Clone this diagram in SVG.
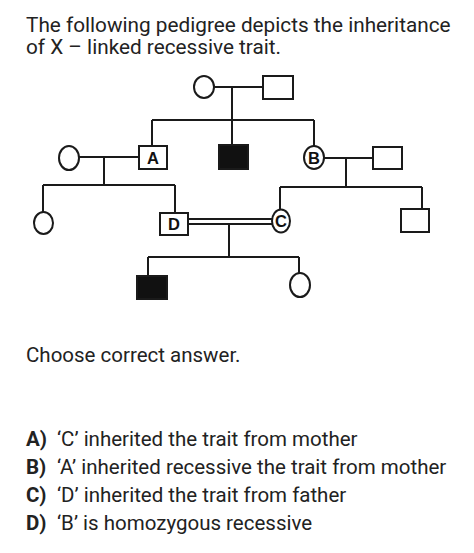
<svg xmlns="http://www.w3.org/2000/svg" width="474" height="553" viewBox="0 0 474 553">
<style>
.t{font-family:Roboto,"Liberation Sans",sans-serif;font-size:20.5px;fill:#222}
.b{font-weight:bold}
.s{fill:#fff;stroke:#1a1a1a;stroke-width:2}
.f{fill:#111;stroke:#1a1a1a;stroke-width:2}
.l{fill:none;stroke:#1a1a1a;stroke-width:2}
.lb{font-family:"Liberation Sans",Arial,sans-serif;font-weight:bold;font-size:16.5px;fill:#111;text-anchor:middle}
</style>
<rect width="474" height="553" fill="#fff"/>
<text class="t" x="26" y="32" style="font-size:20.75px">The following pedigree depicts the inheritance</text>
<text class="t" x="26" y="54" style="font-size:20.75px">of X – linked recessive trait.</text>
<g id="connectors">
<path class="l" d="M214 87H263M232 87V145M152 120H314M152 120V146M314 120V146"/>
<path class="l" d="M79 157H139M104 157V185M43 185H175M43 185V212M175 185V213"/>
<path class="l" d="M324 158H373M346 158V187M280 187H422M280 187V209M422 187V209"/>
<path class="l" d="M188 219H272M188 224H272M229 224V257M148 257H299M148 257V276M299 257V273"/>
</g>
<g id="gp_f"><ellipse class="s" cx="204" cy="87" rx="10" ry="11"/></g>
<g id="gp_m"><rect class="s" x="263" y="76" width="30" height="23"/></g>
<g id="A"><rect class="s" x="139" y="146" width="28" height="23"/><text class="lb" x="153" y="164">A</text></g>
<g id="affected1"><rect class="f" x="219" y="145" width="29" height="24"/></g>
<g id="B"><ellipse class="s" cx="314" cy="157.5" rx="10" ry="11.5"/><text class="lb" x="314" y="163.5">B</text></g>
<g id="wifeA"><ellipse class="s" cx="69" cy="158" rx="10" ry="12"/></g>
<g id="husbandB"><rect class="s" x="373" y="147" width="29" height="22"/></g>
<g id="daughterA"><ellipse class="s" cx="43.5" cy="223" rx="9.5" ry="11"/></g>
<g id="D"><rect class="s" x="160" y="213" width="28" height="22"/><text class="lb" x="174" y="230">D</text></g>
<g id="C"><ellipse class="s" cx="281" cy="221" rx="9" ry="11.5"/><text class="lb" x="281" y="227">C</text></g>
<g id="sonB"><rect class="s" x="401" y="209" width="28" height="23"/></g>
<g id="affected2"><rect class="f" x="137" y="276" width="30" height="23"/></g>
<g id="daughterD"><ellipse class="s" cx="300" cy="285" rx="10" ry="12"/></g>
<text class="t" x="26" y="362">Choose correct answer.</text>
<text class="t b" x="26" y="446">A)</text><text class="t" x="57" y="446">‘C’ inherited the trait from mother</text>
<text class="t b" x="26" y="474">B)</text><text class="t" x="57" y="474">‘A’ inherited recessive the trait from mother</text>
<text class="t b" x="26" y="502">C)</text><text class="t" x="57" y="502">‘D’ inherited the trait from father</text>
<text class="t b" x="26" y="530">D)</text><text class="t" x="57" y="530">‘B’ is homozygous recessive</text>
</svg>
